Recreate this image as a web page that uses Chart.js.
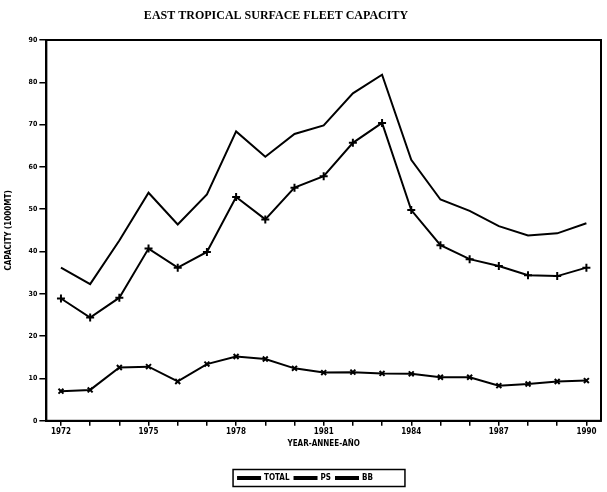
<!DOCTYPE html>
<html>
<head>
<meta charset="utf-8">
<script src="https://cdn.jsdelivr.net/npm/chart.js@4/dist/chart.umd.min.js"></script>
<style>
  html, body { margin: 0; padding: 0; background: #fff; }
  #wrap { width: 607px; height: 492px; }
</style>
</head>
<body>
<div id="wrap"><canvas id="fleetChart"></canvas></div>
<script>
// east tropical surface fleet capacity, 1000 MT

const years = ['1972', '1973', '1974', '1975', '1976', '1977', '1978', '1979', '1980', '1981',
               '1982', '1983', '1984', '1985', '1986', '1987', '1988', '1989', '1990'];
const labeledYears = ['1972', '1975', '1978', '1981', '1984', '1987', '1990'];

const total = [36.2, 32.3, 42.6, 53.9, 46.4, 53.5, 68.4, 62.4, 67.8, 69.8,
               77.4, 81.8, 61.7, 52.3, 49.6, 46.0, 43.8, 44.3, 46.7];
const ps    = [28.9, 24.4, 29.1, 40.7, 36.2, 39.9, 52.9, 47.6, 55.1, 57.8,
               65.7, 70.4, 49.8, 41.5, 38.2, 36.6, 34.4, 34.2, 36.2];
const bb    = [7.0, 7.3, 12.6, 12.8, 9.3, 13.4, 15.2, 14.6, 12.4, 11.4,
               11.5, 11.2, 11.1, 10.3, 10.3, 8.3, 8.7, 9.3, 9.5];

const yTicks = [0, 10, 20, 30, 40, 50, 60, 70, 80, 90];

const titleText = 'EAST TROPICAL SURFACE FLEET CAPACITY';

// title (sits a bit left of centre), box round the plot area and round the legend
const extras = {
    id: 'extras',
    afterDraw(chart) {
        const c = chart.ctx;
        const a = chart.chartArea;
        c.save();
        c.fillStyle = '#000';
        c.font = 'bold 12px "Liberation Serif"';
        c.textAlign = 'center';
        c.textBaseline = 'middle';
        c.fillText(titleText, 276, 16);

        c.strokeStyle = '#000';
        c.lineWidth = 2;
        c.strokeRect(a.left, a.top, a.right - a.left, a.bottom - a.top);

        const hb = chart.legend.legendHitBoxes;
        if (hb && hb.length) {
            const l = Math.min(...hb.map(h => h.left)) - 5;
            const r = Math.max(...hb.map(h => h.left + h.width)) + 32;
            const mid = hb[0].top + hb[0].height / 2;
            c.lineWidth = 1.5;
            c.strokeRect(l, mid - 8.5, r - l, 17);
        }
        c.restore();
    }
};

const ctx = document.getElementById('fleetChart').getContext('2d');

new Chart(ctx, {
    type: 'line',
    data: {
        labels: years,
        datasets: [{
            label: 'TOTAL',
            data: total,
            borderColor: '#000',
            backgroundColor: '#000',
            borderWidth: 2,
            pointRadius: 0,
            tension: 0
        }, {
            label: 'PS',
            data: ps,
            borderColor: '#000',
            backgroundColor: '#000',
            borderWidth: 2,
            pointStyle: 'cross',
            pointRadius: 4,
            pointBorderWidth: 2,
            tension: 0
        }, {
            label: 'BB',
            data: bb,
            borderColor: '#000',
            backgroundColor: '#000',
            borderWidth: 2,
            pointStyle: 'crossRot',
            pointRadius: 3.5,
            pointBorderWidth: 2,
            tension: 0
        }]
    },
    options: {
        responsive: true,
        maintainAspectRatio: false,
        animation: false,
        layout: { padding: { left: 4, right: 0, top: 40, bottom: 0 } },
        plugins: {
            title: { display: false },
            legend: {
                position: 'bottom',
                labels: {
                    color: '#000',
                    boxWidth: 22,
                    boxHeight: 2,
                    padding: 5,
                    font: { family: 'DejaVu Sans Condensed', size: 8, weight: 'bold' }
                }
            },
            tooltip: { enabled: false }
        },
        scales: {
            x: {
                type: 'category',
                offset: true,
                border: { color: '#000', width: 2 },
                grid: { drawOnChartArea: false, color: '#000', lineWidth: 1.5, tickLength: 5 },
                ticks: {
                    color: '#000',
                    autoSkip: false,
                    maxRotation: 0,
                    padding: 1,
                    font: { family: 'DejaVu Sans Condensed', size: 8, weight: 'bold' },
                    callback: function (v, i) {
                        const y = years[i];
                        return labeledYears.includes(y) ? y : '';
                    }
                },
                title: {
                    display: true,
                    text: 'YEAR-ANNEE-AÑO',
                    color: '#000',
                    padding: { top: 2, bottom: 20 },
                    font: { family: 'DejaVu Sans Condensed', size: 8, weight: 'bold' }
                }
            },
            y: {
                min: 0,
                max: 90,
                border: { color: '#000', width: 2 },
                grid: { drawOnChartArea: false, color: '#000', lineWidth: 1.5, tickLength: 7 },
                afterBuildTicks: function (axis) {
                    axis.ticks = yTicks.map(v => ({ value: v }));
                },
                ticks: {
                    color: '#000',
                    padding: 2,
                    font: { family: 'DejaVu Sans Condensed', size: 7, weight: 'bold' }
                },
                title: {
                    display: true,
                    text: 'CAPACITY (1000MT)',
                    color: '#000',
                    padding: { top: 0, bottom: 13 },
                    font: { family: 'DejaVu Sans Condensed', size: 8, weight: 'bold' }
                }
            }
        }
    },
    plugins: [extras]
});
</script>
</body>
</html>
